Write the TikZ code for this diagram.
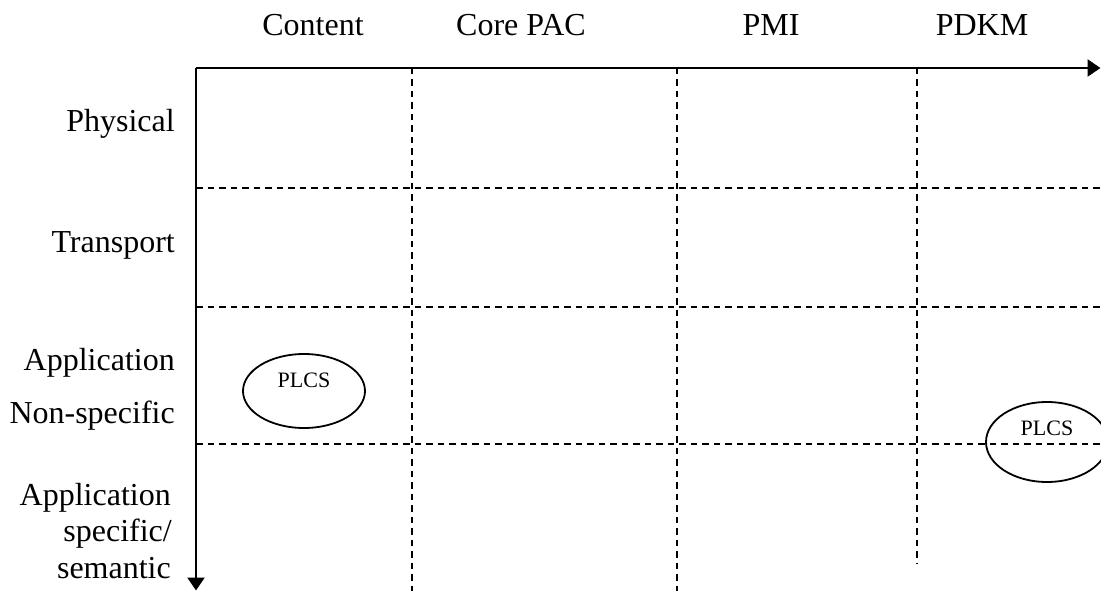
\documentclass[tikz,border=0pt]{standalone}
\usepackage{fontspec}
\setmainfont{Liberation Serif}
\usetikzlibrary{arrows.meta,shapes.geometric}
\begin{document}
\begin{tikzpicture}[x=1pt,y=-1pt,
  axis/.style={line width=2.5pt,-{Triangle[length=13pt,width=17pt]}},
  grid/.style={line width=2pt,dash pattern=on 6.5pt off 5pt},
  collabel/.style={font=\fontsize{32}{38}\selectfont,anchor=base,inner sep=0pt},
  rowlabel/.style={font=\fontsize{32}{38}\selectfont,anchor=base east,inner sep=0pt},
  plcs/.style={draw,line width=1.8pt,ellipse,minimum width=122pt,minimum height=74pt,inner sep=0pt},
  plcstext/.style={font=\fontsize{22}{26}\selectfont,inner sep=0pt}]
\useasboundingbox (0,0) rectangle (1101,591);
\clip (0,0) rectangle (1101,591);
\fill[white] (0,0) rectangle (1101,591);

% axes
\coordinate (o) at (196,68);
\coordinate (xend) at (1100.5,68);
\coordinate (yend) at (196,590.5);

% column separators
\coordinate (c1t) at (412,68);  \coordinate (c1b) at (412,591);
\coordinate (c2t) at (677,68);  \coordinate (c2b) at (677,591);
\coordinate (c3t) at (917,68);  \coordinate (c3b) at (917,564);
\draw[grid] (c1t) -- (c1b);
\draw[grid] (c2t) -- (c2b);
\draw[grid] (c3t) -- (c3b);

% row separators
\coordinate (r1l) at (196,188); \coordinate (r1r) at (1101,188);
\coordinate (r2l) at (196,307); \coordinate (r2r) at (1101,307);
\coordinate (r3l) at (196,444); \coordinate (r3r) at (1101,444);
\draw[grid] (r1l) -- (r1r);
\draw[grid] (r2l) -- (r2r);
\draw[grid] (r3l) -- (r3r);

\draw[axis] (o) -- (xend);
\draw[axis] (o) -- (yend);

% column headings
\node[collabel] (content) at (313,36) {Content};
\node[collabel] (corepac) at (521,36) {Core PAC};
\node[collabel] (pmi) at (771,36) {PMI};
\node[collabel] (pdkm) at (982,36) {PDKM};

% row headings
\node[rowlabel] (physical) at (175,132) {Physical};
\node[rowlabel] (transport) at (175,252) {Transport};
\node[rowlabel] (appa) at (175,370) {Application};
\node[rowlabel] (nonspec) at (175,423) {Non-specific};
\node[rowlabel] (appb) at (171,505) {Application};
\node[rowlabel] (specific) at (172,541) {specific/};
\node[rowlabel] (semantic) at (171,578) {semantic};

% PLCS ellipses
\node[plcs] (plcsa) at (304,391) {};
\node[plcstext] (plcsatext) at (304,380) {PLCS};
\node[plcs,minimum height=80pt] (plcsb) at (1047,442) {};
\node[plcstext] (plcsbtext) at (1047,428) {PLCS};
\end{tikzpicture}
\end{document}
